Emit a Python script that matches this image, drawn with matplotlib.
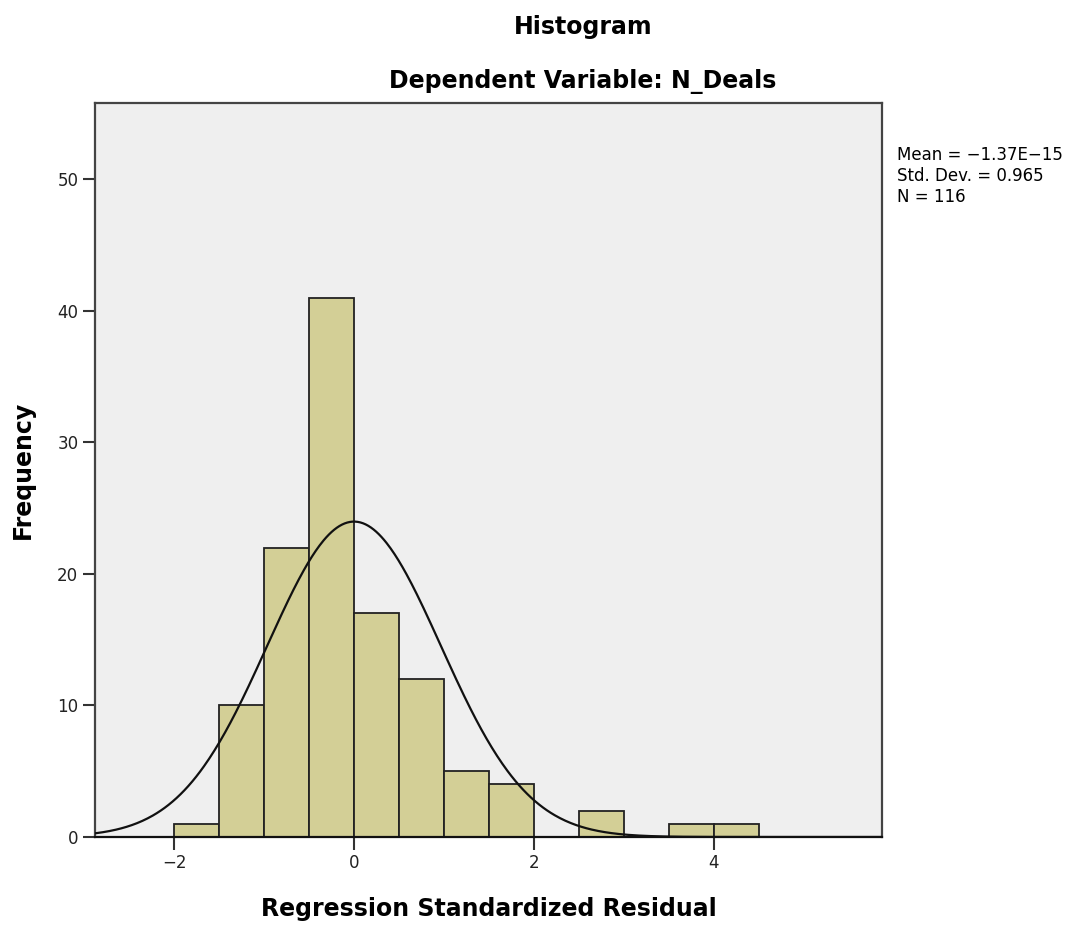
import numpy as np
import matplotlib
matplotlib.use("Agg")
import matplotlib.pyplot as plt

bin_edges = [-2.0, -1.5, -1.0, -0.5, 0.0, 0.5, 1.0, 1.5, 2.0, 2.5, 3.0, 3.5, 4.0, 4.5]
counts = [1, 10, 22, 41, 17, 12, 5, 4, 0, 2, 0, 1, 1]
mean_val = -1.37e-15
std_val = 0.965
n_val = 116
x_ticks = [-2, 0, 2, 4]
y_ticks = [0, 10, 20, 30, 40, 50]

fig = plt.figure(figsize=(10.91, 9.27), dpi=100)
ax = fig.add_axes([95/1091, 1-837/927, (882-95)/1091, (837-103)/927])
ax.set_facecolor("#efefef")

lefts = bin_edges[:-1]
widths = np.diff(bin_edges)
for l, w, c in zip(lefts, widths, counts):
    if c > 0:
        ax.bar(l, c, width=w, align="edge", color="#d3cf96", edgecolor="#222222", linewidth=1.3, zorder=2)

bw = bin_edges[1] - bin_edges[0]
xs = np.linspace(-2.88, 5.87, 600)
ys = n_val * bw * np.exp(-0.5 * ((xs - mean_val) / std_val) ** 2) / (std_val * np.sqrt(2 * np.pi))
ax.plot(xs, ys, color="#111111", linewidth=1.6, zorder=3)

ax.set_xlim(-2.88, 5.87)
ax.set_ylim(0, 55.8)
ax.set_xticks(x_ticks)
ax.set_yticks(y_ticks)
ax.set_xticklabels(["\u22122", "0", "2", "4"])
ax.tick_params(direction="out", length=9, width=1.5, color="#333333", labelsize=12, labelcolor="#222222", pad=3)
for s in ax.spines.values():
    s.set_color("#444444")
    s.set_linewidth(1.6)
ax.spines["bottom"].set_color("#111111")

ax.set_xlabel("Regression Standardized Residual", fontsize=17, fontweight="bold", labelpad=18)
ax.set_ylabel("Frequency", fontsize=17, fontweight="bold", labelpad=16)

fig.text(583/1091, 1-27/927, "Histogram", ha="center", va="center", fontsize=17, fontweight="bold")
fig.text(583/1091, 1-82/927, "Dependent Variable: N_Deals", ha="center", va="center", fontsize=17, fontweight="bold")

fig.text(897/1091, 1-146/927, "Mean = \u22121.37E\u221215\nStd. Dev. = 0.965\nN = 116",
         ha="left", va="top", fontsize=12, linespacing=1.2)

fig.savefig("out.png", dpi=100, facecolor="white")
